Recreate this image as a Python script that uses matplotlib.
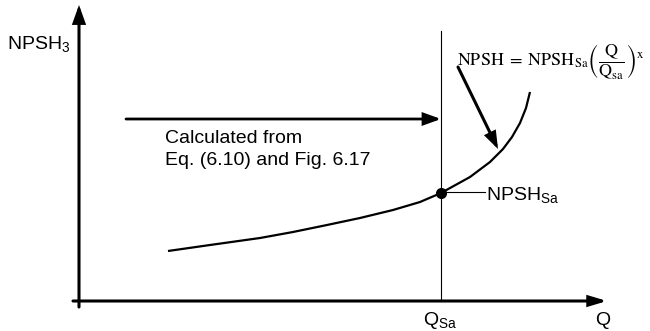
import matplotlib
matplotlib.use("Agg")
import matplotlib.pyplot as plt
from matplotlib.patches import FancyArrowPatch

plt.rcParams['font.family'] = ['Liberation Sans', 'DejaVu Sans']
plt.rcParams['mathtext.fontset'] = 'custom'
plt.rcParams['mathtext.rm'] = 'Liberation Sans'
plt.rcParams['mathtext.it'] = 'Liberation Sans:italic'

# NPSH3 curve (arbitrary units)
q_curve = [0.89, 1.31, 1.81, 2.14, 2.48, 2.81, 3.14, 3.41, 3.62,
           3.91, 4.11, 4.24, 4.33, 4.41, 4.47, 4.51]
h_curve = [0.50, 0.56, 0.63, 0.69, 0.76, 0.83, 0.91, 0.99, 1.08,
           1.24, 1.39, 1.52, 1.64, 1.78, 1.93, 2.09]

q_sa = 3.62
npsh_sa = 1.08
q_max = 5.28
h_max = 2.96
vline_top = 2.70

calc_arrow_q = [0.47, 3.62]
calc_arrow_h = 1.82
formula_arrow_q = [3.79, 4.19]
formula_arrow_h = [2.34, 1.52]

fig = plt.figure(figsize=(6.5, 3.31), dpi=100)
ax = fig.add_axes([0, 0, 1, 1])
ax.set_xlim(-0.79, 5.71)
ax.set_ylim(-0.30, 3.01)
ax.axis('off')


def arrow(p0, p1, lw, hl, hw):
    a = FancyArrowPatch(p0, p1, arrowstyle=f'-|>,head_length={hl},head_width={hw}',
                        mutation_scale=1, lw=lw, color='black',
                        shrinkA=0, shrinkB=0, joinstyle='miter')
    ax.add_patch(a)


# axes
arrow((0, -0.06), (0, h_max), 2.2, 10, 3.6)
arrow((-0.06, 0), (q_max, 0), 2.2, 10, 3.0)

# Q_sa line
ax.plot([q_sa, q_sa], [0, vline_top], color='black', lw=0.8)

# curve
ax.plot(q_curve, h_curve, color='black', lw=1.6, solid_capstyle='butt', solid_joinstyle='round')
ax.plot([q_sa], [npsh_sa], 'o', color='black', ms=7)
ax.plot([q_sa, q_sa + 0.44], [npsh_sa + 0.01, npsh_sa + 0.01], color='black', lw=0.8)

# arrows
arrow((calc_arrow_q[0], calc_arrow_h), (calc_arrow_q[1], calc_arrow_h), 2.0, 10, 3.6)
arrow((formula_arrow_q[0], formula_arrow_h[0]), (formula_arrow_q[1], formula_arrow_h[1]), 2.2, 9, 3.2)

# labels
ax.text(-0.72, 2.52, r'NPSH$_{\mathrm{3}}$', fontsize=14, va='baseline', ha='left')
ax.text(0.86, 1.58, 'Calculated from', fontsize=14, va='baseline', ha='left')
ax.text(0.86, 1.36, 'Eq. (6.10) and Fig. 6.17', fontsize=14, va='baseline', ha='left')
ax.text(4.07, 1.01, r'NPSH$_{\mathrm{Sa}}$', fontsize=14, va='baseline', ha='left')
ax.text(3.44, -0.24, r'Q$_{\mathrm{Sa}}$', fontsize=14, va='baseline', ha='left')
ax.text(5.16, -0.24, 'Q', fontsize=14, va='baseline', ha='left')
ax.text(3.78, 2.36,
        r'$\mathrm{NPSH}\;=\;\mathrm{NPSH}_{\mathrm{Sa}}\left(\dfrac{\mathrm{Q}}{\mathrm{Q}_{\mathrm{sa}}}\right)^{\mathrm{x}}$',
        fontsize=13, va='baseline', ha='left', math_fontfamily='stix')

fig.savefig('out.png', dpi=100)
